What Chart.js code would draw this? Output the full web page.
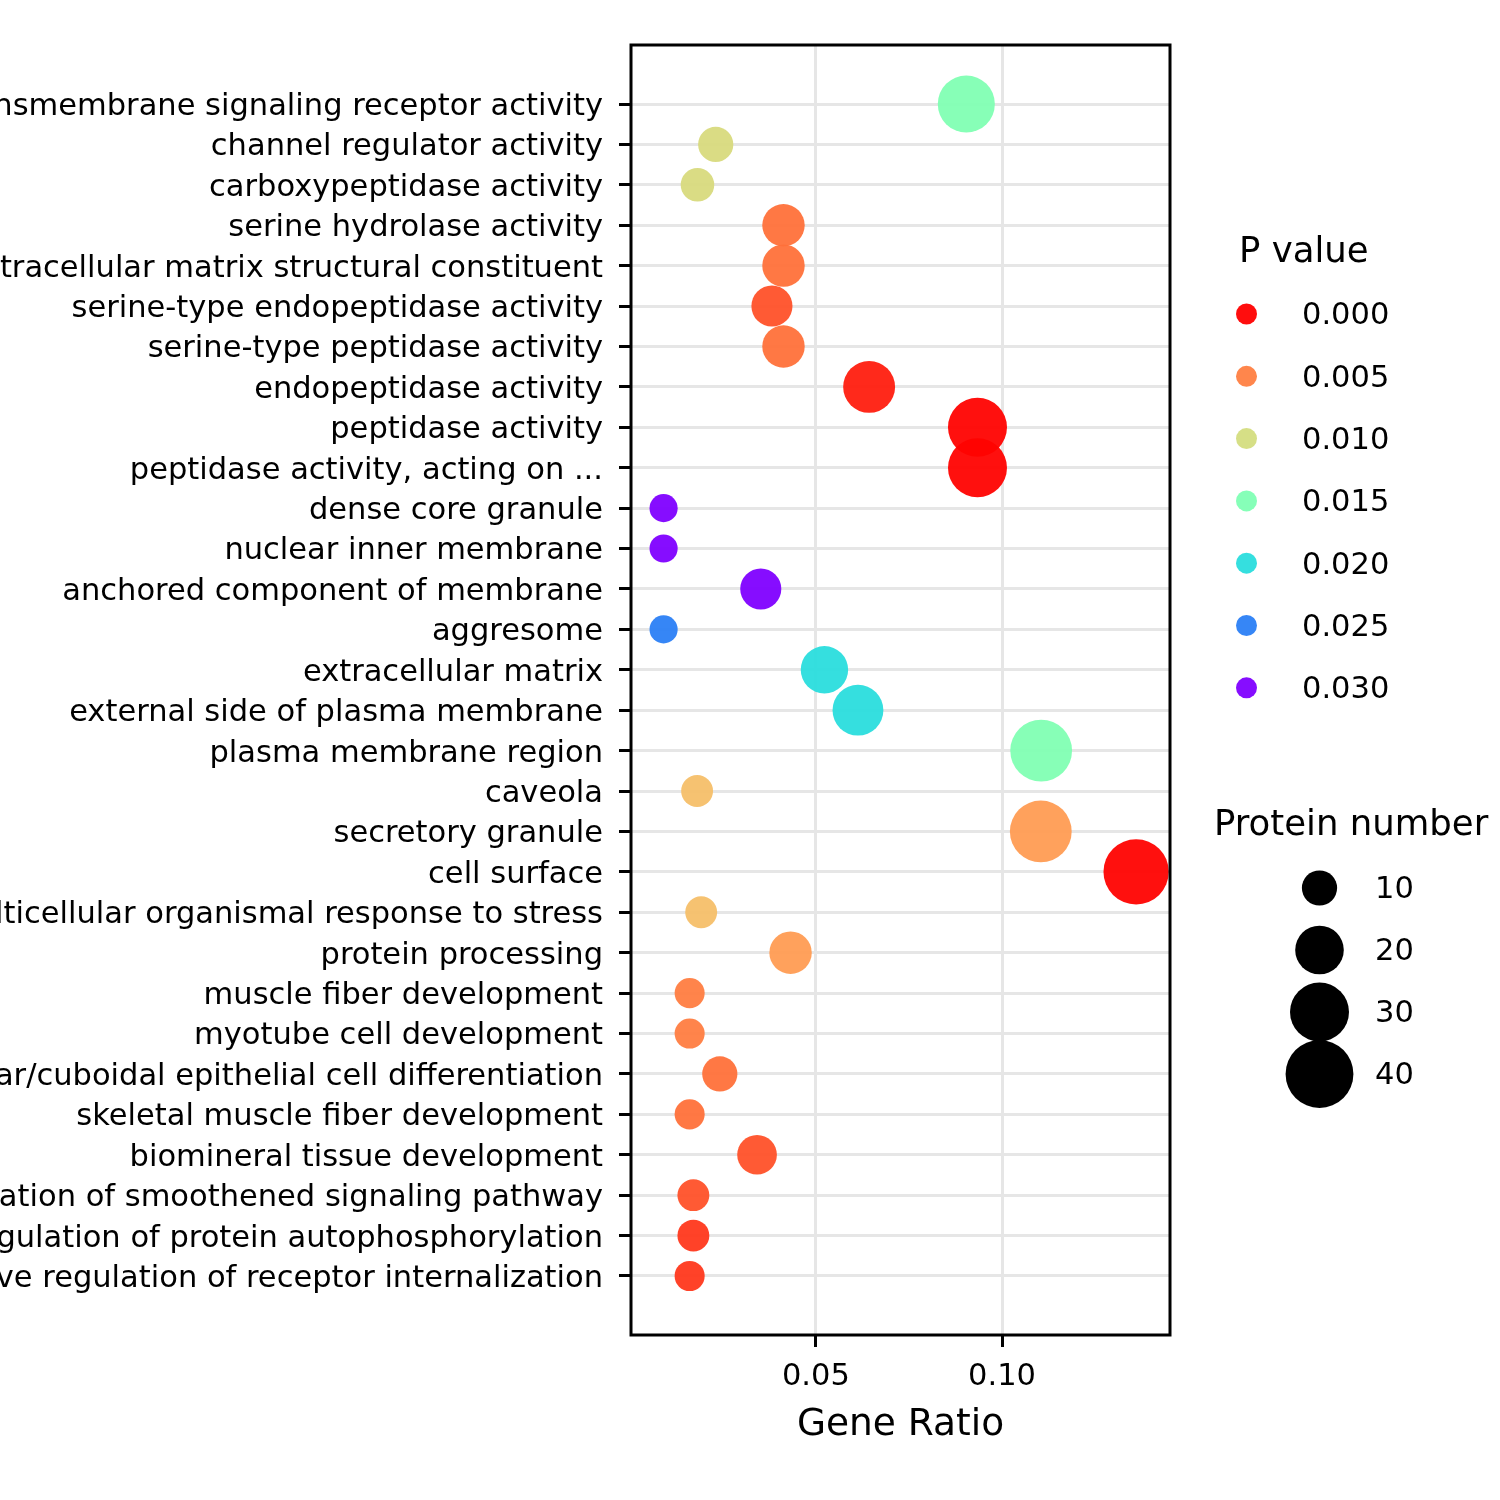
<!DOCTYPE html>
<html>
<head>
<meta charset="utf-8">
<script src="https://cdn.jsdelivr.net/npm/chart.js@4.4.1/dist/chart.umd.min.js"></script>
<style>
  html, body { margin: 0; padding: 0; background: #ffffff; }
  #wrap { width: 1500px; height: 1500px; }
</style>
</head>
<body>
<div id="wrap"><canvas id="c" width="1500" height="1500"></canvas></div>
<script>
const categories = [
  "transmembrane signaling receptor activity",
  "channel regulator activity",
  "carboxypeptidase activity",
  "serine hydrolase activity",
  "extracellular matrix structural constituent",
  "serine-type endopeptidase activity",
  "serine-type peptidase activity",
  "endopeptidase activity",
  "peptidase activity",
  "peptidase activity, acting on ...",
  "dense core granule",
  "nuclear inner membrane",
  "anchored component of membrane",
  "aggresome",
  "extracellular matrix",
  "external side of plasma membrane",
  "plasma membrane region",
  "caveola",
  "secretory granule",
  "cell surface",
  "multicellular organismal response to stress",
  "protein processing",
  "muscle fiber development",
  "myotube cell development",
  "columnar/cuboidal epithelial cell differentiation",
  "skeletal muscle fiber development",
  "biomineral tissue development",
  "positive regulation of smoothened signaling pathway",
  "positive regulation of protein autophosphorylation",
  "positive regulation of receptor internalization"
];
const geneRatio = [
  0.0904, 0.0231, 0.0182, 0.0413, 0.0413, 0.0382, 0.0413, 0.0643, 0.0934, 0.0934,
  0.0091, 0.0091, 0.0352, 0.0091, 0.0523, 0.0613, 0.1105, 0.0181, 0.1104, 0.1360,
  0.0192, 0.0432, 0.0161, 0.0161, 0.0242, 0.0161, 0.0342, 0.0171, 0.0171, 0.0161
];
const proteinNumber = [
  28, 10, 9, 15, 15, 14, 15, 23, 30, 30,
  6, 6, 14, 6, 19, 22, 33, 8, 33, 37,
  8, 15, 7, 7, 10, 7, 13, 8, 8, 7
];
const pValue = [
  0.0149, 0.0098, 0.0098, 0.0044, 0.0044, 0.0031, 0.0044, 0.0011, 0.0001, 0.0001,
  0.0310, 0.0310, 0.0310, 0.0250, 0.0200, 0.0200, 0.0149, 0.0081, 0.0063, 0.0001,
  0.0081, 0.0063, 0.0049, 0.0049, 0.0044, 0.0044, 0.0031, 0.0031, 0.0021, 0.0021
];
const xTickValues = [0.05, 0.10];
const pLegendValues = [0.000, 0.005, 0.010, 0.015, 0.020, 0.025, 0.030];
const sizeLegendValues = [10, 20, 30, 40];

const FONT = "'DejaVu Sans', sans-serif";
const P_MAX = pLegendValues[pLegendValues.length - 1];

function rainbowR(p) {
  let t = 1 - p / P_MAX;
  t = Math.max(0, Math.min(1, t));
  const r = Math.min(1, Math.abs(2 * t - 0.5));
  const g = Math.sin(Math.PI * t);
  const b = Math.cos(Math.PI * t / 2);
  return `rgba(${Math.round(r*255)},${Math.round(g*255)},${Math.round(b*255)},0.95)`;
}
function radiusFor(n) {
  return Math.sqrt(112 * n + 120) / 2;
}

const points = categories.map((c, i) => ({ x: geneRatio[i], y: i, r: radiusFor(proteinNumber[i]) }));
const colors = pValue.map(rainbowR);

const framePlugin = {
  id: 'frame',
  afterDatasetsDraw(chart) {
    const { ctx, chartArea: a } = chart;
    ctx.save();
    ctx.strokeStyle = '#000';
    ctx.lineWidth = 3;
    ctx.strokeRect(a.left, a.top, a.right - a.left, a.bottom - a.top);
    ctx.restore();
  }
};

const legendPlugin = {
  id: 'customLegends',
  afterDraw(chart) {
    const ctx = chart.ctx;
    ctx.save();
    ctx.textBaseline = 'middle';
    ctx.textAlign = 'left';
    ctx.fillStyle = '#000';
    // P value legend
    ctx.font = `35.5px ${FONT}`;
    ctx.fillText('P value', 1239, 252.5);
    ctx.font = `30.5px ${FONT}`;
    pLegendValues.forEach((v, i) => {
      const y = 314 + i * 62.3;
      ctx.beginPath();
      ctx.fillStyle = rainbowR(v);
      ctx.arc(1246.5, y, 10.5, 0, Math.PI * 2);
      ctx.fill();
      ctx.fillStyle = '#000';
      ctx.fillText(v.toFixed(3), 1302, y + 2.5);
    });
    // Protein number legend
    ctx.font = `35.5px ${FONT}`;
    ctx.fillText('Protein number', 1214, 825.5);
    ctx.font = `30.5px ${FONT}`;
    sizeLegendValues.forEach((v, i) => {
      const y = 888 + i * 62;
      ctx.beginPath();
      ctx.fillStyle = '#000';
      ctx.arc(1319.5, y, radiusFor(v), 0, Math.PI * 2);
      ctx.fill();
      ctx.fillText(String(v), 1375, y + 2);
    });
    ctx.restore();
  }
};

new Chart(document.getElementById('c'), {
  type: 'bubble',
  data: {
    datasets: [{
      data: points,
      backgroundColor: colors,
      borderWidth: 0,
      hoverBorderWidth: 0,
      hoverRadius: 0
    }]
  },
  options: {
    responsive: false,
    devicePixelRatio: 1,
    animation: false,
    events: [],
    layout: { padding: { left: 0, top: 45, right: 330, bottom: 0 } },
    plugins: { legend: { display: false }, tooltip: { enabled: false } },
    scales: {
      x: {
        type: 'linear',
        position: 'bottom',
        min: 0.00035,
        max: 0.1451,
        afterBuildTicks: (s) => { s.ticks = xTickValues.map(v => ({ value: v })); },
        afterFit: (s) => { s.height = 165; },
        ticks: {
          callback: (v) => Number(v).toFixed(2),
          color: '#000',
          font: { family: FONT, size: 30.5 },
          padding: 12,
          maxRotation: 0,
          autoSkip: false
        },
        grid: { color: '#e6e6e6', lineWidth: 3, tickColor: '#000', tickWidth: 3, tickLength: 12 },
        border: { display: false },
        title: {
          display: true,
          text: 'Gene Ratio',
          color: '#000',
          font: { family: FONT, size: 37.5 },
          padding: { top: 0, bottom: 52 }
        }
      },
      y: {
        type: 'linear',
        position: 'left',
        reverse: true,
        min: -1.46,
        max: 30.46,
        afterBuildTicks: (s) => { s.ticks = categories.map((c, i) => ({ value: i })); },
        afterFit: (s) => { s.width = 631; },
        ticks: {
          callback: (v) => categories[v],
          color: '#000',
          font: { family: FONT, size: 30.5 },
          padding: 16,
          labelOffset: 3,
          autoSkip: false
        },
        grid: { color: '#e6e6e6', lineWidth: 3, tickColor: '#000', tickWidth: 3, tickLength: 12 },
        border: { display: false }
      }
    }
  },
  plugins: [framePlugin, legendPlugin]
});
</script>
</body>
</html>
